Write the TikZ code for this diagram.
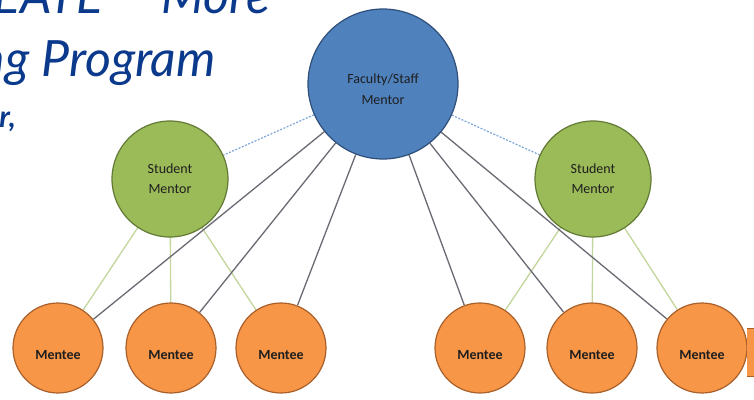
\documentclass[tikz,border=0pt]{standalone}
\usepackage{fontspec}
\usetikzlibrary{backgrounds}
\setmainfont{Carlito}
\newfontfamily\titlefont{Lato}
\begin{document}
\begin{tikzpicture}[x=1pt,y=-1pt,
  facnode/.style={circle,draw=facborder,line width=1.2pt,fill=facfill,minimum size=150pt,inner sep=0pt},
  stunode/.style={circle,draw=stuborder,line width=1.2pt,fill=stufill,minimum size=116pt,inner sep=0pt,align=center,font=\fontsize{14}{20}\selectfont,text=textdark},
  menode/.style={circle,draw=meborder,line width=1.2pt,fill=mefill,minimum size=90pt,inner sep=0pt},
  melabel/.style={font=\bfseries\fontsize{14}{16}\selectfont,text=textdark},
  faclabel/.style={font=\fontsize{14}{21}\selectfont,text=textdark,align=center},
  dashlink/.style={draw=dashblue,line width=1.2pt,dash pattern=on 2pt off 1.5pt},
  graylink/.style={draw=graylines,line width=1.3pt},
  greenlink/.style={draw=greenlines,line width=1.3pt},
  titletext/.style={text=titleblue,inner sep=0pt}
]
\definecolor{facfill}{HTML}{4F81BD}
\definecolor{facborder}{HTML}{2F4F7A}
\definecolor{stufill}{HTML}{9BBB59}
\definecolor{stuborder}{HTML}{637A36}
\definecolor{mefill}{HTML}{F79646}
\definecolor{meborder}{HTML}{A9602A}
\definecolor{dashblue}{HTML}{7FA8DA}
\definecolor{graylines}{HTML}{6A6A74}
\definecolor{greenlines}{HTML}{C3D69B}
\definecolor{textdark}{HTML}{1E1E1E}
\definecolor{titleblue}{HTML}{0B3A8C}

\useasboundingbox (0,0) rectangle (754,399);
\clip (0,0) rectangle (754,399);

% title fragments (cut off at the edges as in the reference)
\node[titletext,anchor=base east,font=\titlefont\itshape\fontsize{50}{50}\selectfont] (t1) at (270,13) {CREATE -- More};
\node[titletext,anchor=base east,font=\titlefont\itshape\fontsize{50}{50}\selectfont] (t2) at (216,76) {Mentoring Program};
\node[titletext,anchor=base east,font=\titlefont\bfseries\itshape\fontsize{30}{30}\selectfont] (t3) at (16,127) {Mentor,};

% nodes
\node[facnode,label={[faclabel,yshift=-5pt]center:Faculty/Staff\\Mentor}] (fac) at (383,84) {};
\node[stunode] (sl) at (170,179) {Student\\Mentor};
\node[stunode] (sr) at (593,179) {Student\\Mentor};

\foreach \m/\x in {m1/58,m2/171,m3/281,m4/480,m5/592,m6/702}{
  \node[menode,label={[melabel,yshift=-7pt]center:Mentee}] (\m) at (\x,348) {};
}

% partial shape at the right edge
\fill[mefill] (747,328) rectangle (756,376);
\draw[meborder,line width=1pt] (747,328) -- (756,328) (747,376) -- (756,376);

% connectors behind the circles
\begin{scope}[on background layer]
\fill[white] (0,0) rectangle (754,399);
\draw[dashlink] (fac) -- (sl);
\draw[dashlink] (fac) -- (sr);
\foreach \m in {m1,m2,m3}{\draw[greenlink] (sl) -- (\m);}
\foreach \m in {m4,m5,m6}{\draw[greenlink] (sr) -- (\m);}
\foreach \m in {m1,m2,m3,m4,m5,m6}{\draw[graylink] (fac) -- (\m);}
\end{scope}
\end{tikzpicture}
\end{document}
